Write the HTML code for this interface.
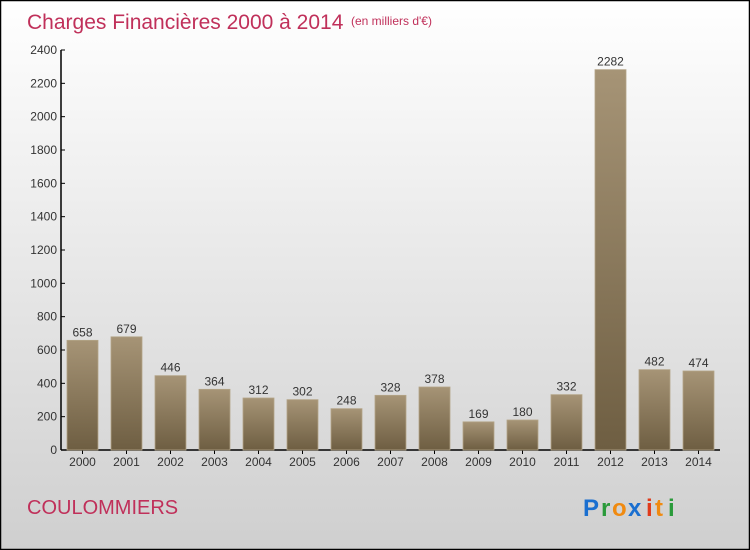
<!DOCTYPE html>
<html><head><meta charset="utf-8"><style>
body{margin:0}
svg{display:block;font-family:"Liberation Sans",sans-serif}
</style></head><body>
<svg width="750" height="550" xmlns="http://www.w3.org/2000/svg">
<defs>
<linearGradient id="bg" x1="0" y1="0" x2="0" y2="1"><stop offset="0" stop-color="#ffffff"/><stop offset="1" stop-color="#cfcfcf"/></linearGradient>
<linearGradient id="bar" x1="0" y1="0" x2="0" y2="1"><stop offset="0" stop-color="#a69476"/><stop offset="1" stop-color="#6e5e42"/></linearGradient>
</defs>
<rect x="0.5" y="0.5" width="749" height="549" fill="url(#bg)" stroke="#000" stroke-width="1.5"/>
<text x="27" y="29" font-size="21" fill="#c0305a">Charges Financières 2000 à 2014</text>
<text x="351" y="25" font-size="12" fill="#c0305a">(en milliers d'€)</text>
<text x="27" y="514" font-size="20" fill="#c0305a">COULOMMIERS</text>
<g font-size="24" font-weight="bold">
<text x="583" y="516" fill="#1a6fd0">P</text><text x="601" y="516" fill="#2a9a3a">r</text><text x="612" y="516" fill="#f08a10">o</text><text x="628" y="516" fill="#1a6fd0">x</text><text x="646" y="516" fill="#e03a1a">i</text><text x="655" y="516" fill="#f08a10">t</text><text x="668" y="516" fill="#2a9a3a">i</text>
</g>
<g id="axes"></g>
<g id="bars"></g>
<script>
const categories=["2000","2001","2002","2003","2004","2005","2006","2007","2008","2009","2010","2011","2012","2013","2014"];
const values=[658,679,446,364,312,302,248,328,378,169,180,332,2282,482,474];
const yTicks=[0,200,400,600,800,1000,1200,1400,1600,1800,2000,2200,2400];
const NS="http://www.w3.org/2000/svg";
const y0=450,yMax=2400,plotH=400,x0=61,step=44,first=82.5,bw=31;
const yS=v=>y0-v/yMax*plotH;
const xS=i=>first+i*step;
function mk(t,a,p,txt){const e=document.createElementNS(NS,t);for(const k in a)e.setAttribute(k,a[k]);if(txt!==undefined)e.textContent=txt;p.appendChild(e);return e;}
const ax=document.getElementById('axes'),bg=document.getElementById('bars');
let e=mk('line',{x1:x0,y1:y0,x2:x0,y2:50,stroke:'#000','stroke-width':1.5},ax);


e=mk('line',{x1:x0,y1:y0,x2:720,y2:y0,stroke:'#000','stroke-width':1.5},ax);


yTicks.forEach(v=>{
 const y=yS(v);
 mk('line',{x1:x0,y1:y,x2:x0+4,y2:y,stroke:'#000'},ax);
 const t=mk('text',{x:x0-4,y:y+4,'text-anchor':'end','font-size':12,fill:'#333'},ax,String(v));
 
 
});
categories.forEach((c,i)=>{
 const cx=xS(i),v=values[i],y=yS(v);
 mk('line',{x1:cx,y1:y0,x2:cx,y2:y0+4,stroke:'#000'},ax);
 const r=mk('rect',{x:cx-bw/2,y:y,width:bw,height:y0-y,fill:'url(#bar)',stroke:'#b3a487','stroke-width':0.8},bg);
 
 
 const l=mk('text',{x:cx,y:y-4,'text-anchor':'middle','font-size':12,fill:'#333'},bg,String(v));
 
 
 const xl=mk('text',{x:cx,y:466,'text-anchor':'middle','font-size':12,fill:'#333'},ax,c);
 
 
});
</script>
</svg>
</body></html>
